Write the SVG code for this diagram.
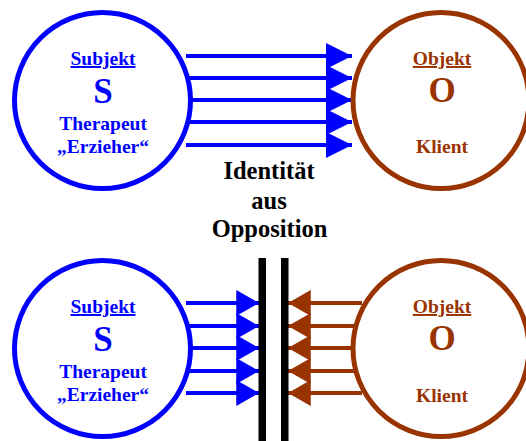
<svg xmlns="http://www.w3.org/2000/svg" width="526" height="441" viewBox="0 0 526 441">
<style>
.t{font-family:"Liberation Serif","Times New Roman",serif;font-weight:bold;text-anchor:middle}
.b{fill:#0000ff}.r{fill:#993300}
.cb{fill:none;stroke:#0000ff;stroke-width:5}
.cr{fill:none;stroke:#993300;stroke-width:5}
.lb{stroke:#0000ff;stroke-width:4}
.lr{stroke:#993300;stroke-width:4}
.m{font-size:24.5px;fill:#000}
</style>
<defs>
<marker id="ab" markerUnits="userSpaceOnUse" markerWidth="26" markerHeight="26" viewBox="0 -12 24 24" refX="24" refY="0" orient="auto"><path d="M0,-12L24,0L0,12Z" fill="#0000ff"/></marker>
<marker id="ar" markerUnits="userSpaceOnUse" markerWidth="26" markerHeight="26" viewBox="0 -12 21 24" refX="21" refY="0" orient="auto"><path d="M0,-12L21,0L0,12Z" fill="#993300"/></marker>
<marker id="ab2" markerUnits="userSpaceOnUse" markerWidth="26" markerHeight="26" viewBox="0 -12 21 24" refX="21" refY="0" orient="auto"><path d="M0,-12L21,0L0,12Z" fill="#0000ff"/></marker>
</defs>
<g id="connectors">
<line class="lb" x1="186" y1="56" x2="352" y2="56" marker-end="url(#ab)"/>
<line class="lb" x1="188" y1="78" x2="352" y2="78" marker-end="url(#ab)"/>
<line class="lb" x1="190" y1="100" x2="352" y2="100" marker-end="url(#ab)"/>
<line class="lb" x1="188" y1="122" x2="352" y2="122" marker-end="url(#ab)"/>
<line class="lb" x1="186" y1="145" x2="352" y2="145" marker-end="url(#ab)"/>
<line class="lb" x1="186" y1="303" x2="259" y2="303" marker-end="url(#ab2)"/>
<line class="lb" x1="188" y1="326" x2="259" y2="326" marker-end="url(#ab2)"/>
<line class="lb" x1="190" y1="348" x2="259" y2="348" marker-end="url(#ab2)"/>
<line class="lb" x1="188" y1="371" x2="259" y2="371" marker-end="url(#ab2)"/>
<line class="lb" x1="186" y1="393" x2="259" y2="393" marker-end="url(#ab2)"/>
<line class="lr" x1="362" y1="303" x2="288" y2="303" marker-end="url(#ar)"/>
<line class="lr" x1="356" y1="326" x2="288" y2="326" marker-end="url(#ar)"/>
<line class="lr" x1="354" y1="348" x2="288" y2="348" marker-end="url(#ar)"/>
<line class="lr" x1="356" y1="371" x2="288" y2="371" marker-end="url(#ar)"/>
<line class="lr" x1="362" y1="393" x2="288" y2="393" marker-end="url(#ar)"/>
</g>
<g id="barrier">
<rect x="258.5" y="258" width="7.5" height="183" fill="#000"/>
<rect x="281" y="258" width="7.5" height="183" fill="#000"/>
</g>
<g id="subject-top">
<circle class="cb" cx="102.5" cy="100.5" r="88"/>
<text class="t b" x="103" y="65" font-size="19.5" text-decoration="underline">Subjekt</text>
<text class="t b" x="103" y="103" font-size="35">S</text>
<text class="t b" x="103" y="130" font-size="19.5">Therapeut</text>
<text class="t b" x="103" y="153" font-size="19.5">„Erzieher“</text>
</g>
<g id="object-top">
<circle class="cr" cx="441" cy="100.5" r="88"/>
<text class="t r" x="442" y="65" font-size="19.5" text-decoration="underline">Objekt</text>
<text class="t r" x="442" y="102" font-size="35">O</text>
<text class="t r" x="442" y="153" font-size="19.5">Klient</text>
</g>
<g id="label">
<text class="t m" x="269" y="179">Identität</text>
<text class="t m" x="269" y="209">aus</text>
<text class="t m" x="269.5" y="237">Opposition</text>
</g>
<g id="subject-bottom">
<circle class="cb" cx="102.5" cy="348.5" r="88"/>
<text class="t b" x="103" y="313" font-size="19.5" text-decoration="underline">Subjekt</text>
<text class="t b" x="103" y="351" font-size="35">S</text>
<text class="t b" x="103" y="378" font-size="19.5">Therapeut</text>
<text class="t b" x="103" y="401" font-size="19.5">„Erzieher“</text>
</g>
<g id="object-bottom">
<circle class="cr" cx="441" cy="348.5" r="88"/>
<text class="t r" x="442" y="313" font-size="19.5" text-decoration="underline">Objekt</text>
<text class="t r" x="442" y="350" font-size="35">O</text>
<text class="t r" x="442" y="402" font-size="19.5">Klient</text>
</g>
</svg>
